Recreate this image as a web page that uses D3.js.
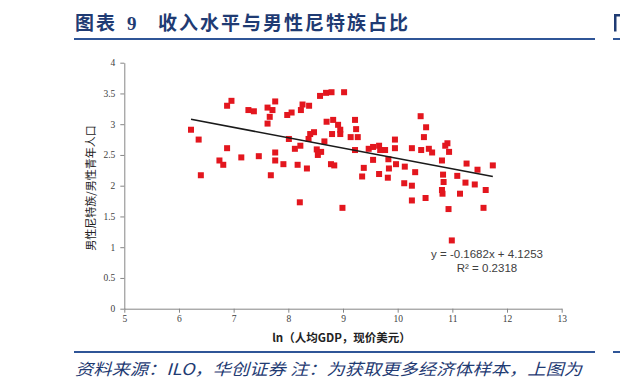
<!DOCTYPE html>
<html><head><meta charset="utf-8">
<script src="https://cdn.jsdelivr.net/npm/d3@7"></script>
<style>body{margin:0;background:#fff}svg{display:block}</style>
</head><body>
<svg id="c" width="620" height="388"></svg>
<script>
// ln(GDP per capita) values
const xs = [6.22,6.36,6.40,6.88,6.74,6.81,7.14,7.46,7.76,7.76,7.91,7.68,6.96,6.88,7.27,7.37,7.62,7.76,7.71,7.66,
  7.62,7.98,8.06,8.01,8.23,8.26,8.38,8.58,8.69,8.79,9.02,8.70,8.82,8.91,8.95,8.95,8.80,9.22,9.24,9.14,
  9.27,8.47,8.40,8.37,8.66,8.22,8.12,8.52,8.60,8.54,9.22,9.47,9.55,9.66,9.68,9.77,9.95,9.95,9.55,9.83,
  9.97,9.84,9.66,9.82,9.38,9.35,8.17,8.34,8.78,8.84,8.21,8.99,10.42,10.52,10.48,10.26,10.43,10.57,10.63,10.91,
  10.87,10.94,10.81,10.13,10.32,11.26,11.46,11.74,10.83,11.09,10.84,11.24,11.41,11.61,10.12,10.26,10.81,10.82,11.14,10.51,
  10.26,10.93,11.57,10.99];
// male NEET / male youth population
const ys = [2.91,2.75,2.17,2.61,2.41,2.34,2.46,2.48,2.54,2.41,2.35,2.17,3.38,3.30,3.23,3.21,3.27,3.37,3.23,3.12,
  3.01,3.15,3.19,2.76,3.23,3.32,3.30,3.46,3.51,3.52,3.52,3.04,3.07,2.99,2.91,2.84,2.84,3.07,2.92,2.79,
  2.79,2.87,2.84,2.76,2.72,2.65,2.60,2.59,2.55,2.50,2.58,2.60,2.63,2.65,2.58,2.58,2.75,2.61,2.42,2.43,
  2.35,2.28,2.19,2.13,2.29,2.15,2.34,2.28,2.35,2.33,1.73,1.64,3.13,2.95,2.79,2.61,2.58,2.60,2.54,2.69,
  2.65,2.55,2.41,2.31,2.22,2.36,2.26,2.33,2.18,2.16,2.06,2.05,2.02,1.93,2.04,2.00,1.93,1.87,1.87,1.80,
  1.76,1.62,1.64,1.11];
const xTicks = [5,6,7,8,9,10,11,12,13];
const yTicks = [0,0.5,1,1.5,2,2.5,3,3.5,4];
const slope = -0.1682, intercept = 4.1253;
const eqText = "y = -0.1682x + 4.1253";
const r2Text = "R² = 0.2318";
const title1 = "图表", title2 = "9", title3 = "收入水平与男性尼特族占比";
const yTitle = "男性尼特族/男性青年人口";
const xTitle = "ln（人均GDP，现价美元）";
const footer = "资料来源：ILO，华创证券 注：为获取更多经济体样本，上图为";

const svg = d3.select("#c");
const x = d3.scaleLinear().domain([5,13]).range([124.3,561.7]);
const y = d3.scaleLinear().domain([0,4]).range([308.7,62.7]);
const navy = "#1f3b73", lineBlue = "#2f5597";

// title
const tg = svg.append("g").attr("fill", navy).attr("font-family","'Noto Sans CJK SC'").attr("font-weight","bold");
tg.append("text").attr("x",75).attr("y",30).attr("font-size",19).attr("letter-spacing",2).text(title1);
tg.append("text").attr("x",127).attr("y",30).attr("font-size",19).attr("font-family","'Liberation Serif'").text(title2);
tg.append("text").attr("x",158).attr("y",30).attr("font-size",19).attr("textLength",250).attr("lengthAdjust","spacing").text(title3);
svg.append("line").attr("x1",74).attr("x2",595).attr("y1",39).attr("y2",39).attr("stroke",lineBlue).attr("stroke-width",2);
svg.append("line").attr("x1",613).attr("x2",620).attr("y1",39).attr("y2",39).attr("stroke",lineBlue).attr("stroke-width",2);
// left edge of the next page's cut-off title glyph
svg.append("path").attr("d","M614,14 h6 v2.5 h-3.5 v15 h-2.5 z").attr("fill",navy);

// footer
svg.append("line").attr("x1",74).attr("x2",595).attr("y1",352).attr("y2",352).attr("stroke",lineBlue).attr("stroke-width",2);
svg.append("line").attr("x1",613).attr("x2",620).attr("y1",352).attr("y2",352).attr("stroke",lineBlue).attr("stroke-width",2);
svg.append("text").attr("x",75).attr("y",375).attr("font-size",16).attr("font-style","italic").attr("fill",navy)
  .attr("font-family","'Noto Sans CJK SC'").attr("textLength",507).attr("lengthAdjust","spacingAndGlyphs").text(footer);

// axes
const axStyle = g => {
  g.select(".domain").attr("stroke","#868686");
  g.selectAll(".tick line").attr("stroke","#868686");
  g.selectAll(".tick text").attr("fill","#404040").attr("font-family","'Liberation Serif'").attr("font-size",9.5);
};
svg.append("g").attr("transform",`translate(${x(5)},0)`)
  .call(d3.axisLeft(y).tickValues(yTicks).tickSize(4).tickSizeOuter(0).tickPadding(5).tickFormat(d3.format("")))
  .call(axStyle);
svg.append("g").attr("transform",`translate(0,${y(0)})`)
  .call(d3.axisBottom(x).tickValues(xTicks).tickSize(4).tickSizeOuter(0).tickPadding(3).tickFormat(d3.format("")))
  .call(axStyle);

// axis titles
svg.append("text").attr("transform",`translate(95,188) rotate(-90)`).attr("text-anchor","middle")
  .attr("font-size",11).attr("fill","#222").attr("font-family","'Noto Sans CJK SC'").text(yTitle);
svg.append("text").attr("x",341.5).attr("y",342).attr("text-anchor","middle").attr("font-weight","bold")
  .attr("font-size",11.5).attr("fill","#222").attr("font-family","'Noto Sans CJK SC'").text(xTitle);

// points
const s = 6;
svg.append("g").selectAll("rect").data(xs.map((v,i)=>[v,ys[i]])).join("rect")
  .attr("x", d => x(d[0]) - s/2).attr("y", d => y(d[1]) - s/2)
  .attr("width", s).attr("height", s).attr("fill","#e3161e");

// trend line
const [xmin,xmax] = d3.extent(xs);
svg.append("line").attr("x1",x(xmin)).attr("y1",y(slope*xmin+intercept))
  .attr("x2",x(xmax)).attr("y2",y(slope*xmax+intercept))
  .attr("stroke","#1a1a1a").attr("stroke-width",1.6);

// equation
const eg = svg.append("g").attr("fill","#404040").attr("font-family","'Liberation Sans'").attr("font-size",11.5).attr("text-anchor","middle");
eg.append("text").attr("x",487).attr("y",258).text(eqText);
eg.append("text").attr("x",487).attr("y",272).text(r2Text);
</script>
</body></html>
